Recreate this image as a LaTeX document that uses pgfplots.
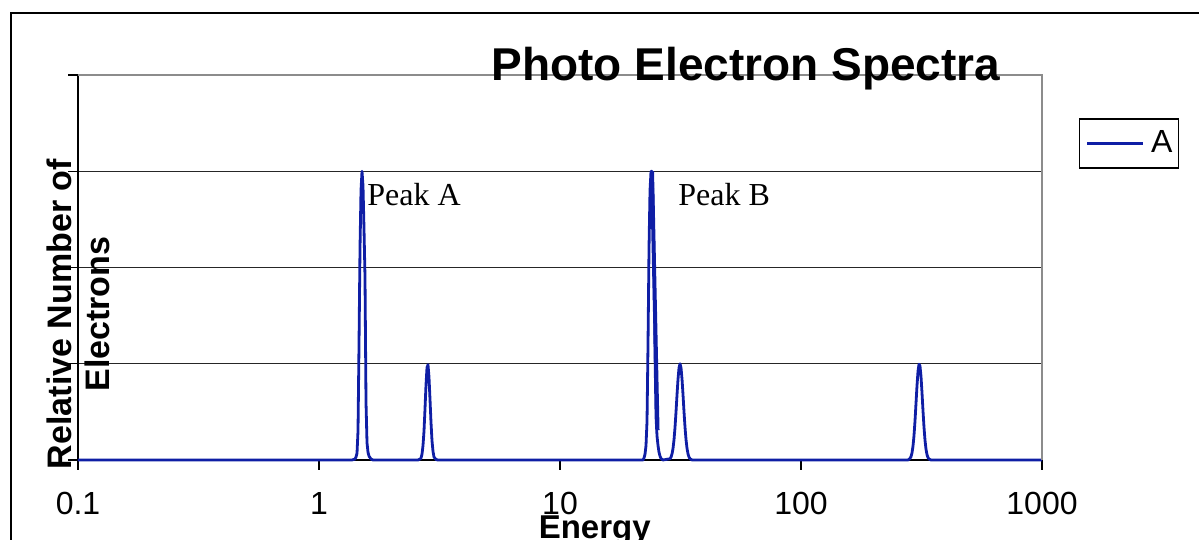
\documentclass[border=0pt]{standalone}
\usepackage{fontspec}
\setmainfont{Liberation Sans}
\newfontfamily\peakfont{Liberation Serif}
\usepackage{pgfplots}
\pgfplotsset{compat=1.18}
\definecolor{serblue}{RGB}{15,30,165}
\definecolor{framegray}{RGB}{140,140,140}

\begin{document}
\begin{tikzpicture}
\useasboundingbox (0,0) rectangle (599.5pt,270pt);
% outer chart frame
\draw[line width=1pt] (5.5pt,-5pt) -- (5.5pt,263.6pt) -- (610pt,263.6pt);
\begin{axis}[
  at={(39pt,40pt)}, anchor=south west,
  width=482pt, height=192.5pt, scale only axis,
  xmode=log, xmin=0.1, xmax=1000,
  ymin=0, ymax=4,
  xtick={0.1,1,10,100,1000},
  xticklabels={0.1,1,10,100,1000},
  xminorticks=false,
  ytick={0,1,2,3,4},
  yticklabels={,,,,},
  axis x line*=bottom, axis y line*=left,
  axis line style={black, line width=0.6pt, -},
  tick align=outside,
  major tick length=5pt,
  tick style={black, line width=0.6pt},
  ymajorgrids,
  grid style={black!85, line width=0.6pt},
  tick label style={font=\fontsize{16}{18}\selectfont},
  xticklabel style={anchor=north, inner sep=0pt, yshift=-11pt},
  every axis title shift=0pt,
  title={Photo Electron Spectra},
  title style={font=\bfseries\fontsize{23}{26}\selectfont, at={(0.693,0.987)}, anchor=base, inner sep=0pt},
  xlabel={Energy},
  xlabel style={font=\bfseries\fontsize{16.5}{18}\selectfont, at={(0.536,-0.204)}, anchor=base, inner sep=0pt},
  ylabel={Relative Number of\\Electrons},
  ylabel style={font=\bfseries\fontsize{17}{19}\selectfont, at={(0.0,0.379)}, anchor=center, align=center, inner sep=0pt},
  legend style={at={(1.0384,0.8875)}, anchor=north west, draw=black, line width=0.6pt,
    font=\fontsize{16}{18}\selectfont, inner xsep=3pt, inner ysep=6pt,
    nodes={inner sep=0pt}, column sep=3.6pt},
  legend image code/.code={\draw[#1] (0pt,0pt) -- (27.8pt,0pt);},
  clip=false,
  after end axis/.code={
    \draw[framegray, line width=1pt] (rel axis cs:0,1) -- (rel axis cs:1,1) -- (rel axis cs:1,0);
  },
]
\addplot[serblue, line width=1.4pt, line join=round] coordinates {
  (0.1,0)
  (1.3707,0) (1.4106,0.01) (1.4242,0.03) (1.4379,0.07) (1.4517,0.3)
  (1.4656,1.2) (1.4797,2.2) (1.4939,2.8) (1.5082,3.0) (1.5227,2.85)
  (1.5373,2.4) (1.5521,1.9) (1.5670,0.6) (1.5820,0.18) (1.5972,0.08)
  (1.6125,0.04) (1.6436,0.01) (1.6753,0)
  (2.5751,0) (2.6248,0.01) (2.6500,0.02) (2.6755,0.06) (2.7012,0.15)
  (2.7271,0.30) (2.7533,0.53) (2.7797,0.78) (2.8064,0.96) (2.8334,0.99)
  (2.8606,0.86) (2.8881,0.63) (2.9158,0.39) (2.9438,0.20) (2.9721,0.09)
  (3.0006,0.03) (3.0585,0.005) (3.1175,0)
  (22.101,0) (22.313,0.02) (22.528,0.06) (22.744,0.15) (22.963,0.4)
  (23.183,1.2) (23.406,2.2) (23.631,2.8) (23.858,3.0) (24.087,3.0)
  (24.318,2.7) (24.552,2.0) (24.788,1.1) (25.026,0.45) (25.266,0.25)
  (25.509,0.15) (25.754,0.08) (26.001,0.04) (26.251,0.015) (26.758,0)
  (28.609,0.013) (28.884,0.03) (29.161,0.063) (29.441,0.12) (29.724,0.211)
  (30.009,0.339) (30.297,0.5) (30.588,0.678) (30.882,0.841) (31.179,0.958)
  (31.478,1.0) (31.780,0.958) (32.085,0.841) (32.393,0.678) (32.704,0.5)
  (33.018,0.339) (33.336,0.211) (33.656,0.12) (33.979,0.063) (34.305,0.03)
  (34.636,0.013) (35.305,0)
  (277.95,0) (283.31,0.015) (286.03,0.035) (288.78,0.074) (291.55,0.144)
  (294.35,0.254) (297.18,0.405) (300.03,0.588) (302.91,0.772) (305.82,0.921)
  (308.76,0.996) (311.73,0.976) (314.72,0.868) (317.74,0.700) (320.79,0.512)
  (323.87,0.340) (326.98,0.205) (330.12,0.112) (333.29,0.055) (336.49,0.025)
  (339.72,0.010) (346.28,0)
  (1000,0)
};
\addlegendentry{A}
% doubled trace on the falling side of peak B
\addplot[serblue, line width=2pt, forget plot] coordinates {(24.087,3.0) (25.387,0.31)};
\node[font=\peakfont\fontsize{16}{18}\selectfont, anchor=base west, inner sep=0pt] at (axis cs:1.582,2.649) {Peak A};
\node[font=\peakfont\fontsize{16}{18}\selectfont, anchor=base west, inner sep=0pt] at (axis cs:30.87,2.649) {Peak B};
\end{axis}
\end{tikzpicture}
\end{document}
